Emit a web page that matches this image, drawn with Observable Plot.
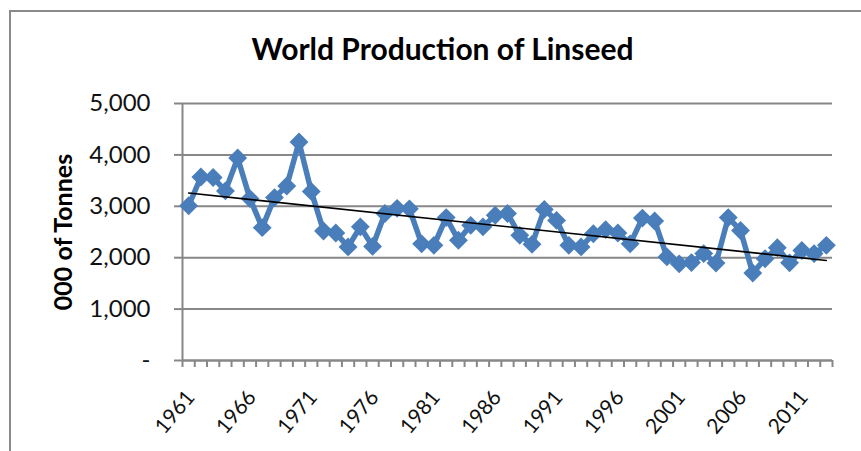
<!DOCTYPE html>
<html>
<head>
<meta charset="utf-8">
<script src="https://cdn.jsdelivr.net/npm/d3@7"></script>
<script src="https://cdn.jsdelivr.net/npm/@observablehq/plot@0.6"></script>
<style>
  html, body { margin: 0; padding: 0; background: #fff; }
  #chart { position: relative; width: 861px; height: 451px; overflow: hidden; }
  #chart .frame {
    position: absolute; left: 9px; top: 10px; width: 900px; height: 500px;
    border-left: 2px solid #8a8a8a; border-top: 2px solid #8a8a8a;
    pointer-events: none;
  }
  #chart svg { position: absolute; left: 0; top: 0; }
</style>
</head>
<body>
<div id="chart"><div class="frame"></div></div>
<script>
// World linseed production, thousand tonnes
const years = [
  1961, 1962, 1963, 1964, 1965, 1966, 1967, 1968, 1969, 1970,
  1971, 1972, 1973, 1974, 1975, 1976, 1977, 1978, 1979, 1980,
  1981, 1982, 1983, 1984, 1985, 1986, 1987, 1988, 1989, 1990,
  1991, 1992, 1993, 1994, 1995, 1996, 1997, 1998, 1999, 2000,
  2001, 2002, 2003, 2004, 2005, 2006, 2007, 2008, 2009, 2010,
  2011, 2012, 2013
];
const production = [
  3010, 3570, 3560, 3300, 3940, 3150, 2585, 3170, 3395, 4250,
  3290, 2520, 2480, 2210, 2600, 2220, 2860, 2960, 2950, 2270,
  2240, 2780, 2340, 2630, 2600, 2825, 2860, 2435, 2260, 2940,
  2725, 2240, 2210, 2465, 2545, 2480, 2270, 2770, 2715, 2015,
  1880, 1905, 2080, 1895, 2780, 2530, 1700, 1980, 2195, 1900,
  2140, 2080, 2240
];
const yTicks = [0, 1000, 2000, 3000, 4000, 5000];
const labelYears = [1961, 1966, 1971, 1976, 1981, 1986, 1991, 1996, 2001, 2006, 2011];
const title = "World Production of Linseed";
const yLabel = "000 of Tonnes";

const data = years.map((year, i) => ({year, value: production[i]}));
// category boundaries between successive years, where the tick marks sit
const boundaries = [...years.map(y => y - 0.5), years[years.length - 1] + 0.5];

const blue = "#4a7ebb";
const axisGray = "#878787";
const fmtY = d => d === 0 ? "-" : d3.format(",")(d);

const chart = Plot.plot({
  width: 861,
  height: 451,
  marginLeft: 182,
  marginRight: 29,
  marginTop: 103,
  marginBottom: 91,
  style: {fontFamily: "Lato, 'Open Sans', sans-serif", background: "transparent", overflow: "visible"},
  x: {type: "linear", domain: [boundaries[0], boundaries[boundaries.length - 1]]},
  y: {domain: [0, 5000]},
  marks: [
    Plot.gridY(yTicks, {stroke: axisGray, strokeOpacity: 1, strokeWidth: 2}),
    Plot.axisY(yTicks, {
      tickSize: 8, tickPadding: 24, tickFormat: fmtY, label: null,
      stroke: axisGray, strokeWidth: 2, fill: "#111", fontSize: 24
    }),
    Plot.axisX(boundaries, {
      tickSize: 7, tickPadding: 0, tickFormat: () => "", label: null,
      stroke: axisGray, strokeWidth: 2
    }),
    Plot.ruleX([boundaries[0]], {stroke: axisGray, strokeWidth: 2}),
    Plot.ruleY([0], {stroke: axisGray, strokeWidth: 2}),
    Plot.line(data, {x: "year", y: "value", stroke: blue, strokeWidth: 5.5, strokeLinejoin: "round"}),
    Plot.dot(data, {x: "year", y: "value", symbol: "diamond2", r: 8.5, fill: blue, stroke: "none"}),
    Plot.linearRegressionY(data, {x: "year", y: "value", stroke: "black", strokeWidth: 1.6, ci: 0}),
    Plot.text(labelYears, {
      x: d => d, text: d => String(d), frameAnchor: "bottom", dy: 33, dx: 2,
      rotate: -50, textAnchor: "end", lineAnchor: "middle", fontSize: 21, fill: "#111"
    }),
    Plot.text([title], {
      frameAnchor: "top", dy: -53, dx: -65, textAnchor: "middle", lineAnchor: "middle",
      fontWeight: "bold", fontSize: 30, fill: "#000"
    }),
    Plot.text([yLabel], {
      frameAnchor: "left", dx: -119, rotate: -90, textAnchor: "middle", lineAnchor: "middle",
      fontWeight: "bold", fontSize: 25, fill: "#000"
    })
  ]
});

document.getElementById("chart").appendChild(chart);
</script>
</body>
</html>
